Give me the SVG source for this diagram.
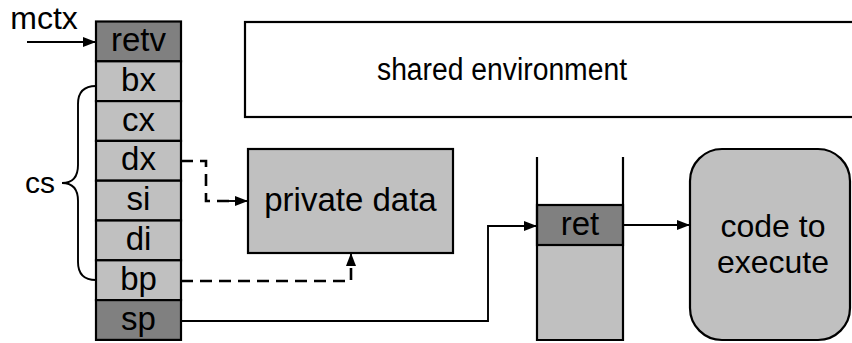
<svg xmlns="http://www.w3.org/2000/svg" width="852" height="343" viewBox="0 0 852 343">
  <style>
    .lbl { font-family: "Liberation Sans", Arial, sans-serif; font-size: 33px; fill: #000; text-anchor: middle; }
    .cell { stroke: #000; stroke-width: 2.2; }
    .light { fill: #c0c0c0; }
    .dark { fill: #808080; }
    .wire { fill: none; stroke: #000; stroke-width: 1.9; }
    .dash { fill: none; stroke: #000; stroke-width: 2.6; stroke-dasharray: 12 7; }
  </style>
  <defs>
    <marker id="arrow" viewBox="0 0 13 10" refX="13" refY="5" markerWidth="13" markerHeight="10" markerUnits="userSpaceOnUse" orient="auto">
      <path d="M0,0 L13,5 L0,10 Z" fill="#000"/>
    </marker>
  </defs>
  <rect width="852" height="343" fill="#fff"/>

  <!-- register context column -->
  <g id="mctx-label">
    <text class="lbl" x="44" y="29" style="font-size:32px">mctx</text>
  </g>
  <g id="reg-retv">
    <rect class="cell dark" x="96" y="21.5" width="85" height="39.8"/>
    <text class="lbl" x="138.5" y="51">retv</text>
  </g>
  <g id="reg-bx">
    <rect class="cell light" x="96" y="61.3" width="85" height="39.8"/>
    <text class="lbl" x="138.5" y="91">bx</text>
  </g>
  <g id="reg-cx">
    <rect class="cell light" x="96" y="101.1" width="85" height="39.8"/>
    <text class="lbl" x="138.5" y="130.5">cx</text>
  </g>
  <g id="reg-dx">
    <rect class="cell light" x="96" y="140.9" width="85" height="39.8"/>
    <text class="lbl" x="138.5" y="170.3">dx</text>
  </g>
  <g id="reg-si">
    <rect class="cell light" x="96" y="180.7" width="85" height="39.8"/>
    <text class="lbl" x="138.5" y="210.1">si</text>
  </g>
  <g id="reg-di">
    <rect class="cell light" x="96" y="220.5" width="85" height="39.8"/>
    <text class="lbl" x="138.5" y="249.9">di</text>
  </g>
  <g id="reg-bp">
    <rect class="cell light" x="96" y="260.3" width="85" height="39.8"/>
    <text class="lbl" x="138.5" y="289.7">bp</text>
  </g>
  <g id="reg-sp">
    <rect class="cell dark" x="96" y="300.1" width="85" height="39.8"/>
    <text class="lbl" x="138.5" y="329.5">sp</text>
  </g>

  <!-- callee-saved brace -->
  <g id="cs-brace">
    <path class="wire" d="M96,86 Q78,86 78,104 L78,165 Q78,183 62,183 Q78,183 78,201 L78,262 Q78,280 96,280"/>
    <text class="lbl" x="40" y="193" style="font-size:30px">cs</text>
  </g>

  <g id="shared-env">
    <rect x="245" y="22" width="640" height="95" fill="#fff" stroke="#000" stroke-width="2.2"/>
    <text class="lbl" x="502" y="80" style="font-size:31px" textLength="250" lengthAdjust="spacingAndGlyphs">shared environment</text>
  </g>

  <g id="private-data">
    <rect class="cell light" x="248" y="149" width="205" height="104"/>
    <text class="lbl" x="350.5" y="211">private data</text>
  </g>

  <!-- machine stack with return address -->
  <g id="stack">
    <rect class="light" x="537" y="245" width="86" height="95"/>
    <rect class="cell dark" x="537" y="205" width="86" height="40"/>
    <path d="M537,157 L537,340 L623,340 L623,157" fill="none" stroke="#000" stroke-width="2.2"/>
    <text class="lbl" x="580" y="235">ret</text>
  </g>

  <g id="code">
    <rect class="cell light" x="690" y="149" width="160" height="191" rx="32" ry="32"/>
    <text class="lbl" x="773" y="237" style="font-size:32px">code to</text>
    <text class="lbl" x="773" y="273" style="font-size:32px">execute</text>
  </g>

  <g id="connectors">
    <path class="wire" d="M27,42 L96,42" marker-end="url(#arrow)"/>
    <path class="dash" d="M181,161 L206,161 L206,201 L236,201"/>
    <path class="wire" d="M222,201 L248,201" stroke-width="2.6" marker-end="url(#arrow)"/>
    <path class="dash" d="M181,281 L351,281 L351,265"/>
    <path class="wire" d="M351,266 L351,253" stroke-width="2.6" marker-end="url(#arrow)"/>
    <path class="wire" d="M181,321 L488,321 L488,226 L537,226" marker-end="url(#arrow)"/>
    <path class="wire" d="M623,225 L690,225" marker-end="url(#arrow)"/>
  </g>
</svg>
